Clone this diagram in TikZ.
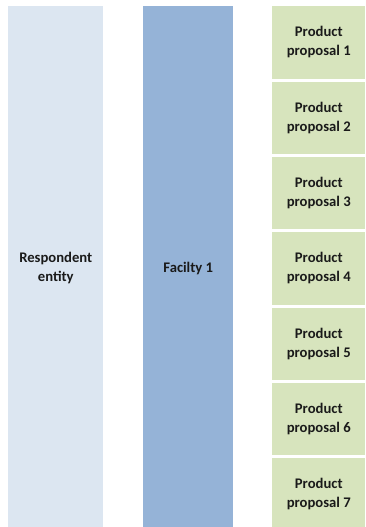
\documentclass[tikz,border=0pt]{standalone}
\usepackage{fontspec}
\setmainfont{Carlito}
\definecolor{lightblue}{HTML}{DCE6F1}
\definecolor{midblue}{HTML}{95B3D7}
\definecolor{lightgreen}{HTML}{D7E4BD}
\definecolor{txt}{HTML}{1A1A1A}
\tikzset{
  box/.style={draw=none, inner sep=0pt, align=center, text=txt,
    font=\fontsize{11pt}{14.2pt}\selectfont\bfseries},
}
\begin{document}
\begin{tikzpicture}[x=0.75pt,y=-0.75pt]
\useasboundingbox (0,0) rectangle (365,527);
\clip (0,0) rectangle (365,527);
\node[box, fill=lightblue, minimum width=95*0.75pt, minimum height=524*0.75pt, anchor=north west] (resp) at (8,6) {Respondent\\entity};
\node[box, fill=midblue, minimum width=90*0.75pt, minimum height=524*0.75pt, anchor=north west] (fac) at (143,6) {Facilty 1};
\foreach \i in {1,...,7}{
  \node[box, fill=lightgreen, minimum width=93*0.75pt, minimum height=72.3*0.75pt, anchor=north west] (p\i) at (272,{6+(\i-1)*75.33}) {Product\\proposal \i};
}
\end{tikzpicture}
\end{document}
